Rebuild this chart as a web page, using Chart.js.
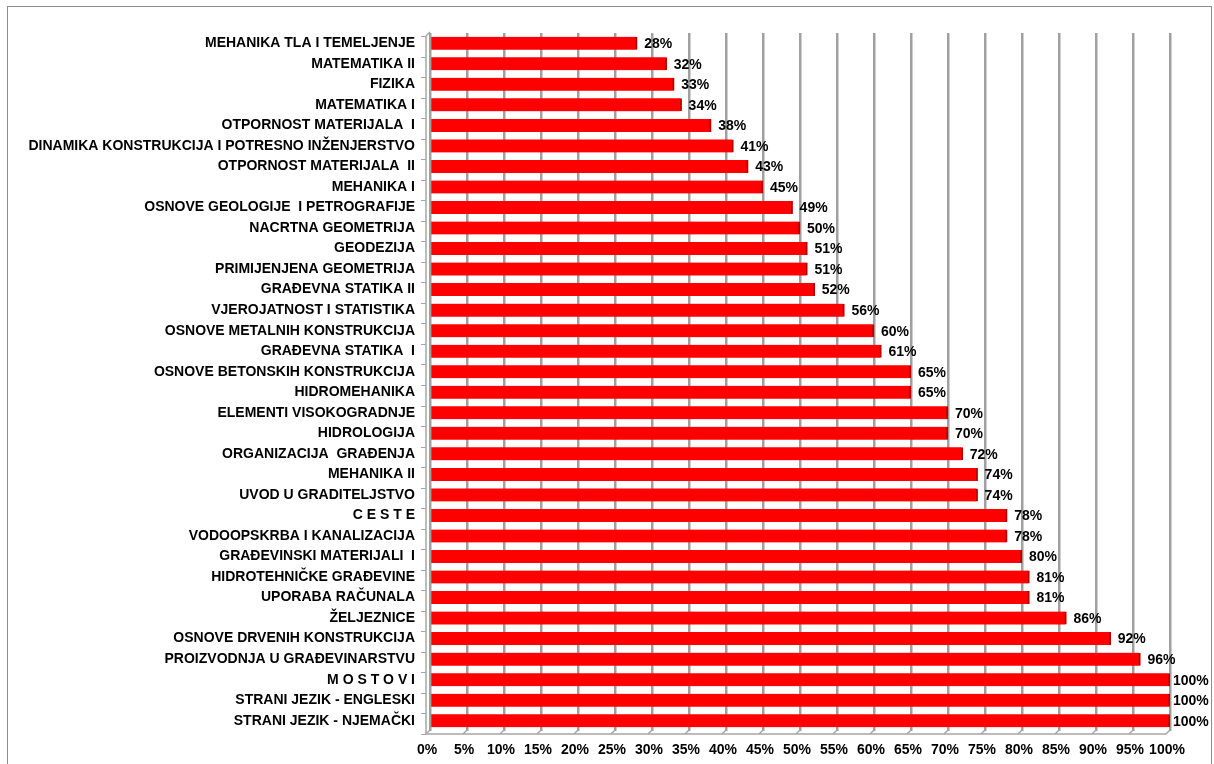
<!DOCTYPE html>
<html><head><meta charset="utf-8">
<script src="https://cdn.jsdelivr.net/npm/chart.js@4/dist/chart.umd.min.js"></script>
<style>
html,body{margin:0;padding:0;background:#fff;}
#wrap{position:absolute;left:0;top:0;width:1214px;height:764px;}
#frame{position:absolute;left:7px;top:6px;width:1205px;height:770px;border:1px solid #8c8c8c;box-sizing:border-box;}
canvas{position:absolute;left:0;top:0;}
</style></head><body>
<div id="wrap"><div id="frame"></div><canvas id="c" width="1214" height="764"></canvas></div>
<script>
const categories = [
"MEHANIKA TLA I TEMELJENJE","MATEMATIKA II","FIZIKA","MATEMATIKA I","OTPORNOST MATERIJALA  I",
"DINAMIKA KONSTRUKCIJA I POTRESNO INŽENJERSTVO","OTPORNOST MATERIJALA  II","MEHANIKA I",
"OSNOVE GEOLOGIJE  I PETROGRAFIJE","NACRTNA GEOMETRIJA","GEODEZIJA","PRIMIJENJENA GEOMETRIJA",
"GRAĐEVNA STATIKA II","VJEROJATNOST I STATISTIKA","OSNOVE METALNIH KONSTRUKCIJA","GRAĐEVNA STATIKA  I",
"OSNOVE BETONSKIH KONSTRUKCIJA","HIDROMEHANIKA","ELEMENTI VISOKOGRADNJE","HIDROLOGIJA",
"ORGANIZACIJA  GRAĐENJA","MEHANIKA II","UVOD U GRADITELJSTVO","C E S T E","VODOOPSKRBA I KANALIZACIJA",
"GRAĐEVINSKI MATERIJALI  I","HIDROTEHNIČKE GRAĐEVINE","UPORABA RAČUNALA","ŽELJEZNICE",
"OSNOVE DRVENIH KONSTRUKCIJA","PROIZVODNJA U GRAĐEVINARSTVU","M O S T O V I","STRANI JEZIK - ENGLESKI",
"STRANI JEZIK - NJEMAČKI"];
const values = [28,32,33,34,38,41,43,45,49,50,51,51,52,56,60,61,65,65,70,70,72,74,74,78,78,80,81,81,86,92,96,100,100,100];
const tickValues = [0,5,10,15,20,25,30,35,40,45,50,55,60,65,70,75,80,85,90,95,100];

const valueLabels = {
  id:'valueLabels',
  afterDatasetsDraw(chart){
    const ctx = chart.ctx;
    const meta = chart.getDatasetMeta(0);
    ctx.save();
    ctx.font = 'bold 14px "Liberation Sans", Arial, sans-serif';
    ctx.fillStyle = '#000';
    ctx.textBaseline = 'middle';
    ctx.textAlign = 'left';
    meta.data.forEach((bar,i)=>{
      ctx.fillText(values[i] + '%', bar.x + (values[i] >= 100 ? 3 : 7), bar.y + 1);
    });
    ctx.restore();
  }
};

const floor3d = {
  id:'floor3d',
  beforeDatasetsDraw(chart){
    const ctx = chart.ctx, x = chart.scales.x, a = chart.chartArea;
    ctx.save();
    ctx.strokeStyle = '#a6a6a6';
    ctx.lineWidth = 1.5;
    ctx.beginPath();
    ctx.moveTo(a.left-4, a.bottom+3);
    ctx.lineTo(a.right-4, a.bottom+3);
    ctx.stroke();
    tickValues.forEach(v=>{
      const px = x.getPixelForValue(v);
      ctx.beginPath();
      ctx.moveTo(px-4, a.bottom+3);
      ctx.lineTo(px, a.bottom-1);
      ctx.stroke();
    });
    ctx.beginPath();
    ctx.moveTo(a.left-4, a.top+3);
    ctx.lineTo(a.left-4, a.bottom+3);
    ctx.stroke();
    ctx.beginPath();
    ctx.moveTo(a.left-4, a.top+3);
    ctx.lineTo(a.left, a.top-1);
    ctx.stroke();
    ctx.lineWidth = 1;
    for (let i = 0; i <= categories.length; i++) {
      const py = Math.round(a.top + 3 + (a.bottom - a.top) * i / categories.length) + 0.5;
      ctx.beginPath();
      ctx.moveTo(a.left-9, py);
      ctx.lineTo(a.left-4, py);
      ctx.stroke();
    }
    ctx.restore();
  }
};

const ctx = document.getElementById('c').getContext('2d');
new Chart(ctx, {
  type:'bar',
  data:{
    labels:categories,
    datasets:[{
      data:values,
      backgroundColor:(c)=>{
        const el = c.element;
        if(!el || el.y===undefined) return '#ff0000';
        const g = c.chart.ctx.createLinearGradient(0, el.y-6.5, 0, el.y+6.5);
        g.addColorStop(0,'#ff6060');
        g.addColorStop(0.2,'#ff0000');
        g.addColorStop(0.75,'#f80000');
        g.addColorStop(1,'#b00000');
        return g;
      },
      borderColor:'#b80000',
      borderWidth:{top:0,left:0,bottom:0,right:2},
      borderSkipped:false,
      barThickness:13
    }]
  },
  options:{
    responsive:false,
    animation:false,
    indexAxis:'y',
    layout:{padding:{left:0,right:44,top:33,bottom:0}},
    plugins:{legend:{display:false},tooltip:{enabled:false}},
    scales:{
      x:{
        min:0,max:100,
        afterBuildTicks(scale){ scale.ticks = tickValues.map(v=>({value:v})); },
        afterFit(scale){ scale.height = 33; },
        ticks:{
          callback:(v)=>v+'%',
          color:'#000',
          font:{family:'"Liberation Sans", Arial, sans-serif',size:14,weight:'bold'},
          padding:11,
          labelOffset:-3,
          maxRotation:0,autoSkip:false
        },
        grid:{color:'#a0a0a0',lineWidth:2.5,drawTicks:false},
        border:{display:false}
      },
      y:{
        afterFit(scale){ scale.width = 430; },
        ticks:{
          color:'#000',
          font:{family:'"Liberation Sans", Arial, sans-serif',size:14,weight:'bold'},
          padding:15,
          autoSkip:false
        },
        grid:{display:false,drawTicks:false},
        border:{display:false}
      }
    }
  },
  plugins:[floor3d, valueLabels]
});
</script>
</body></html>
